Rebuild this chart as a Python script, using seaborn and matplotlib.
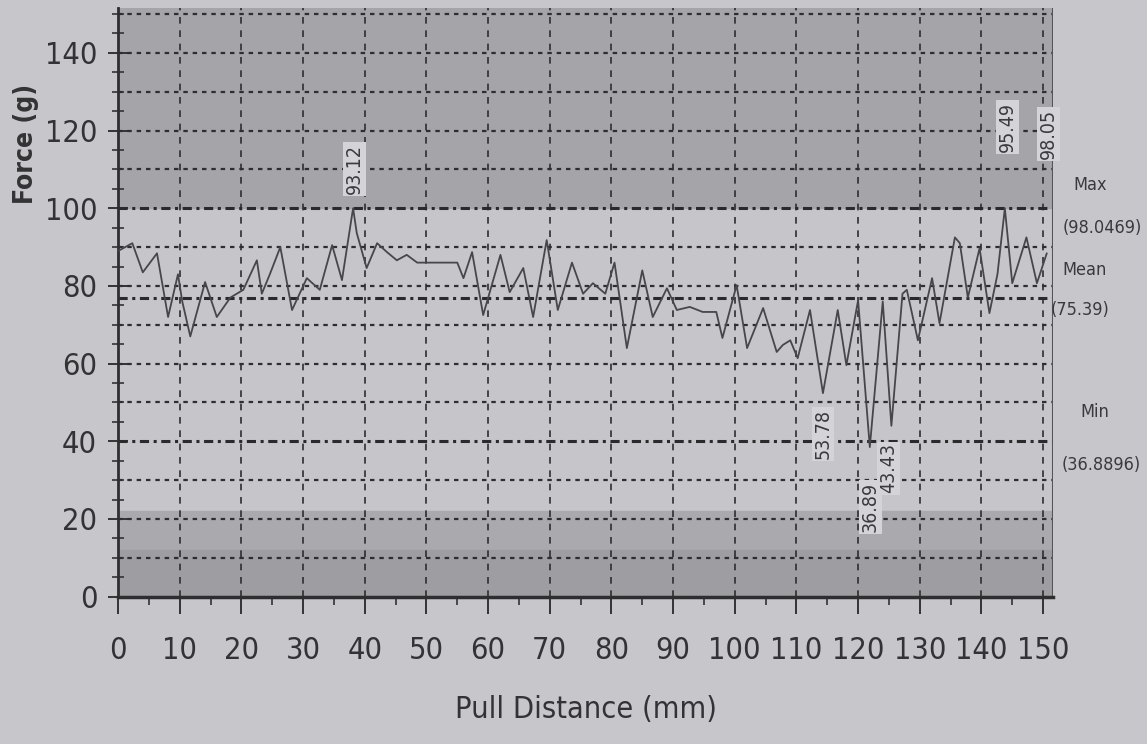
import matplotlib
matplotlib.use("Agg")
import matplotlib.pyplot as plt
import seaborn as sns
import pandas as pd

# values
distance = [0, 2.3, 4, 6.3, 8.1, 9.7, 10.4, 11.7, 14.1, 16, 18.2, 20.3, 22.5, 23.3, 24.6,
            26.3, 28.2, 30.6, 32.7, 34.7, 36.3, 38.1, 38.7, 40.3, 42, 43.6, 45.2, 46.8, 48.5,
            51, 55, 56, 57.4, 59.2, 62, 63.5, 65.7, 67.3, 69.5, 71.3, 73.6, 75.4, 77, 79,
            80.5, 82.5, 85, 86.7, 89, 90.6, 92.7, 94.8, 97, 98, 100.3, 102, 104.6, 106.8,
            107.8, 109, 110.2, 112.2, 114.3, 116.7, 118.1, 120, 121.9, 124, 125.4, 127.2,
            127.9, 129.7, 132, 133.2, 135.7, 136.5, 137.8, 139.7, 141.3, 142.6, 143.8, 145,
            147.3, 149, 150.6]
force = [89, 91, 83.5, 88.4, 72, 83, 76, 67, 81, 72, 77, 79, 86.6, 78, 83,
         90, 73.8, 82, 79, 90.5, 81.5, 100, 93.6, 84.6, 91, 88.7, 86.6, 88, 86,
         86, 86, 82, 88.7, 72.5, 88, 78.4, 84.6, 72, 91.8, 73.8, 86, 78, 80.7, 78,
         86, 64, 84, 72, 79.4, 73.8, 74.6, 73.3, 73.3, 66.6, 80.2, 64, 74.3, 63,
         64.8, 66, 61.4, 73.8, 52.4, 73.8, 59.6, 76.3, 38.5, 76, 44, 78,
         79, 66, 82, 70.4, 92.5, 91, 77, 89.7, 73, 83, 100, 80.7,
         92.5, 80.7, 88.4]

peak_labels = ["93.12", "95.49", "98.05", "53.78", "36.89", "43.43"]
peak_x = [38.3, 144.2, 150.9, 114.3, 122.0, 125.0]
peak_y = [110, 121, 119, 42, 23, 33]

stat_names = ["Max", "Mean", "Min"]
stat_values = ["(98.0469)", "(75.39)", "(36.8896)"]
stat_lines = [100, 77, 40]

df = pd.DataFrame({"distance": distance, "force": force})

sns.set_style("white")
plt.rcParams['font.family'] = ['DejaVu Sans']
plt.rcParams['font.stretch'] = 'condensed'

fig = plt.figure(figsize=(11.47, 7.44), dpi=100)
fig.patch.set_facecolor('#c6c6cb')
ax = fig.add_axes([0.103, 0.198, 0.815, 0.791])
ax.set_facecolor('#c5c5ca')

ax.set_xlim(0, 151.6)
ax.set_ylim(0, 151.5)

# shaded bands
ax.axhspan(100, 152, color='#a4a4a9', zorder=0)
ax.axhspan(0, 22, color='#a9a9ae', zorder=0)
ax.axhspan(0, 12, color='#9d9da2', zorder=0)

# dotted grid
for g in range(10, 151, 10):
    if g in (40, 100):
        continue
    ax.axhline(g, color='#2e2e30', lw=1.6, ls=(0, (2, 2.2)), zorder=1)
for d in range(10, 151, 10):
    ax.axvline(d, color='#2e2e30', lw=1.2, ls=(0, (4, 4)), zorder=1)

# max / mean / min lines
for v in stat_lines:
    ax.axhline(v, color='#2a2a2c', lw=2.2, ls=(0, (3, 1.5, 1, 1.5)), zorder=2)

sns.lineplot(data=df, x='distance', y='force', color='#47474b', lw=1.3, ax=ax, zorder=3)

for lab, x, y in zip(peak_labels, peak_x, peak_y):
    ax.text(x, y, lab, rotation=90, ha='center', va='center', fontsize=14, color='#3a3a3e',
            bbox=dict(boxstyle='square,pad=0.1', fc='#d4d4d8', ec='none'), zorder=4,
            clip_on=False)

# labels on the right side
right_pos = [(157.6, 105.9, 159.6, 95), (156.8, 84, 156.0, 73.8), (158.4, 47.5, 159.4, 34)]
for name, val, (nx, ny, vx, vy) in zip(stat_names, stat_values, right_pos):
    ax.text(nx, ny, name, ha='center', va='center', fontsize=13, color='#3a3a3e', clip_on=False)
    ax.text(vx, vy, val, ha='center', va='center', fontsize=13, color='#3a3a3e', clip_on=False)

ax.set_xticks(range(0, 151, 10))
ax.set_xticks(range(5, 151, 10), minor=True)
ax.set_yticks(range(0, 141, 20))
ax.set_yticks(range(0, 151, 5), minor=True)
ax.tick_params(axis='x', which='major', direction='out', length=12, width=1.4, labelsize=22,
               colors='#333336', pad=16, bottom=True)
ax.tick_params(axis='x', which='minor', direction='out', length=6, width=1.2, bottom=True,
               colors='#333336')
ax.tick_params(axis='y', which='major', direction='inout', length=14, width=1.4, labelsize=22,
               colors='#333336', pad=8, left=True)
ax.tick_params(axis='y', which='minor', direction='inout', length=8, width=1.2, left=True,
               colors='#333336')

for s in ['top', 'right']:
    ax.spines[s].set_visible(False)
ax.spines['left'].set_color('#2e2e30')
ax.spines['left'].set_linewidth(2)
ax.spines['bottom'].set_color('#2e2e30')
ax.spines['bottom'].set_linewidth(2.5)
ax.axvline(151.6, color='#555558', lw=1.5, zorder=2)

ax.set_xlabel('Pull Distance (mm)', fontsize=22, color='#333336', labelpad=22)
ax.set_ylabel('Force (g)', fontsize=19, fontweight='bold', color='#333336')
ax.yaxis.set_label_coords(-0.085, 0.77)

fig.savefig('out.png', dpi=100, facecolor=fig.get_facecolor())
